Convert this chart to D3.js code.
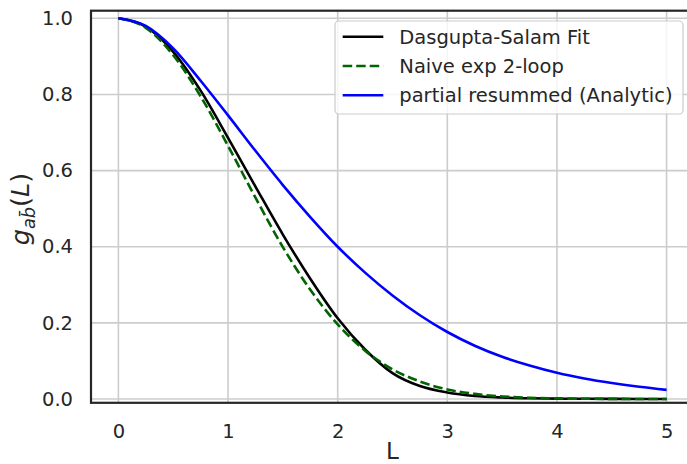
<!DOCTYPE html>
<html>
<head>
<meta charset="utf-8">
<script src="https://cdn.jsdelivr.net/npm/d3@7"></script>
<style>
  html, body { margin: 0; padding: 0; background: #fff; }
  svg { display: block; font-family: "DejaVu Sans", sans-serif; }
</style>
</head>
<body>
<svg id="chart" width="687" height="464"></svg>
<script>
// ---- data ----
const L = [0, 0.25, 0.5, 0.75, 1.0, 1.25, 1.5, 1.75, 2.0, 2.25, 2.5, 2.75, 3.0, 3.25, 3.5, 3.75, 4.0, 4.25, 4.5, 4.75, 5.0];
const dasguptaSalam = [1.000, 0.978, 0.912, 0.810, 0.686, 0.558, 0.432, 0.316, 0.212, 0.130, 0.068, 0.034, 0.017, 0.008, 0.004, 0.002, 0.001, 0.0005, 0.0002, 0.0001, 0.0000];
const naiveExp2Loop = [1.000, 0.975, 0.903, 0.795, 0.665, 0.529, 0.399, 0.287, 0.196, 0.127, 0.078, 0.046, 0.025, 0.0134, 0.0067, 0.0032, 0.0015, 0.0006, 0.0003, 0.0001, 0.0000];
const partialResummed = [1.000, 0.980, 0.921, 0.836, 0.745, 0.652, 0.562, 0.478, 0.400, 0.332, 0.272, 0.220, 0.176, 0.140, 0.111, 0.088, 0.069, 0.054, 0.042, 0.032, 0.024];
const seriesNames = ["Dasgupta-Salam Fit", "Naive exp 2-loop", "partial resummed (Analytic)"];
const xTicks = [0, 1, 2, 3, 4, 5];
const yTicks = [0.0, 0.2, 0.4, 0.6, 0.8, 1.0];

const svg = d3.select("#chart");
const box = { left: 91, right: 694, top: 10.7, bottom: 402.8 };

const x = d3.scaleLinear().domain([-0.25, 5.25]).range([box.left, box.right]);
const y = d3.scaleLinear().domain([-0.01, 1.02]).range([box.bottom, box.top]);

const textColor = "#262626";
const tickFont = 19.5;

// grid
const grid = svg.append("g");
grid.selectAll("line.gx").data(xTicks).join("line")
  .attr("x1", d => x(d)).attr("x2", d => x(d))
  .attr("y1", box.top).attr("y2", box.bottom)
  .attr("stroke", "#cccccc").attr("stroke-width", 1.6);
grid.selectAll("line.gy").data(yTicks).join("line")
  .attr("y1", d => y(d)).attr("y2", d => y(d))
  .attr("x1", box.left).attr("x2", box.right)
  .attr("stroke", "#cccccc").attr("stroke-width", 1.6);

// axes (labels only)
const xAxis = svg.append("g")
  .attr("transform", `translate(0,${box.bottom})`)
  .call(d3.axisBottom(x).tickValues(xTicks).tickSize(0).tickPadding(21).tickFormat(d3.format("d")));
const yAxis = svg.append("g")
  .attr("transform", `translate(${box.left},0)`)
  .call(d3.axisLeft(y).tickValues(yTicks).tickSize(0).tickPadding(18).tickFormat(d3.format(".1f")));
[xAxis, yAxis].forEach(a => {
  a.select(".domain").remove();
  a.selectAll("text").attr("fill", textColor).style("font-size", tickFont + "px")
    .style("font-family", "'DejaVu Sans', sans-serif");
});

// lines
const rows = L.map((l, i) => ({ l, a: dasguptaSalam[i], b: naiveExp2Loop[i], c: partialResummed[i] }));
const mk = key => d3.line().x(d => x(d.l)).y(d => y(d[key])).curve(d3.curveMonotoneX);
const styles = [
  { key: "a", color: "#000000", dash: null },
  { key: "b", color: "#006400", dash: "9.5,4" },
  { key: "c", color: "#0000ff", dash: null }
];
styles.forEach(s => {
  svg.append("path").datum(rows)
    .attr("d", mk(s.key))
    .attr("fill", "none")
    .attr("stroke", s.color)
    .attr("stroke-width", 2.6)
    .attr("stroke-dasharray", s.dash);
});

// frame
svg.append("rect")
  .attr("x", box.left).attr("y", box.top)
  .attr("width", box.right - box.left).attr("height", box.bottom - box.top)
  .attr("fill", "none").attr("stroke", "#262626").attr("stroke-width", 2.2);

// legend
const lg = svg.append("g");
lg.append("rect").attr("x", 335).attr("y", 21).attr("width", 348).attr("height", 93).attr("rx", 4)
  .attr("fill", "#ffffff").attr("fill-opacity", 0.8).attr("stroke", "#cccccc").attr("stroke-width", 1.2);
const rowY = [36.7, 66, 95.3];
styles.forEach((s, i) => {
  lg.append("line").attr("x1", 342.7).attr("x2", 383.3).attr("y1", rowY[i]).attr("y2", rowY[i])
    .attr("stroke", s.color).attr("stroke-width", 2.6).attr("stroke-dasharray", s.dash);
  lg.append("text").attr("x", 399.3).attr("y", rowY[i]).attr("dy", "0.36em")
    .attr("fill", textColor).style("font-size", tickFont + "px").text(seriesNames[i]);
});

// x label
svg.append("text").attr("x", (box.left + box.right) / 2).attr("y", 458.5)
  .attr("text-anchor", "middle").attr("fill", textColor).style("font-size", "23px").text("L");

// y label: g_{a\bar b}(L)
const yl = svg.append("text")
  .attr("transform", "translate(29,209) rotate(-90)")
  .attr("text-anchor", "middle").attr("fill", textColor).style("font-size", "25.5px");
yl.append("tspan").style("font-style", "italic").text("g");
yl.append("tspan").style("font-style", "italic").style("font-size", "17.8px").attr("dy", "6").text("ab\u0304");
yl.append("tspan").attr("dy", "-6").text("(");
yl.append("tspan").style("font-style", "italic").text("L");
yl.append("tspan").text(")");
</script>
</body>
</html>
